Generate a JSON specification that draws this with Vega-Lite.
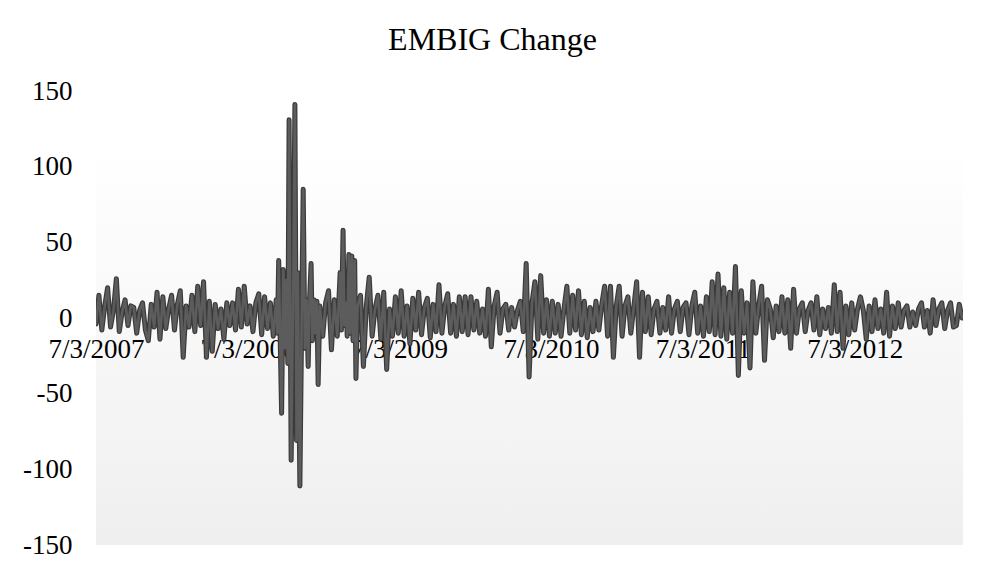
{
  "$schema": "https://vega.github.io/schema/vega-lite/v6.json",
  "autosize": "none",
  "width": 867,
  "height": 454,
  "padding": {"left": 96, "top": 91, "right": 27, "bottom": 24},
  "background": "#ffffff",
  "title": {
    "text": "EMBIG Change",
    "font": "Liberation Serif",
    "fontSize": 32,
    "fontWeight": "normal",
    "color": "#000000",
    "anchor": "middle",
    "dx": -37,
    "offset": 20
  },
  "view": {
    "stroke": null,
    "fill": {
      "gradient": "linear",
      "x1": 0, "y1": 0, "x2": 0, "y2": 1,
      "stops": [
        {"offset": 0, "color": "#ffffff"},
        {"offset": 0.12, "color": "#ffffff"},
        {"offset": 1, "color": "#efefef"}
      ]
    }
  },
  "data": {
    "values": [
      {"date": "2007-07-03", "change": -4}, {"date": "2007-07-10", "change": 15}, {"date": "2007-07-17", "change": -8}, {"date": "2007-07-24", "change": 8},
      {"date": "2007-07-31", "change": 20}, {"date": "2007-08-07", "change": -6}, {"date": "2007-08-14", "change": 5}, {"date": "2007-08-21", "change": 26},
      {"date": "2007-08-28", "change": -9}, {"date": "2007-09-04", "change": 4}, {"date": "2007-09-11", "change": 12}, {"date": "2007-09-18", "change": -5},
      {"date": "2007-09-25", "change": 8}, {"date": "2007-10-02", "change": 7}, {"date": "2007-10-09", "change": -10}, {"date": "2007-10-16", "change": 5},
      {"date": "2007-10-23", "change": 10}, {"date": "2007-10-30", "change": -8}, {"date": "2007-11-06", "change": -15}, {"date": "2007-11-13", "change": 9},
      {"date": "2007-11-20", "change": -6}, {"date": "2007-11-27", "change": 17}, {"date": "2007-12-04", "change": -14}, {"date": "2007-12-11", "change": 14},
      {"date": "2007-12-18", "change": -7}, {"date": "2007-12-25", "change": 6}, {"date": "2008-01-01", "change": 15}, {"date": "2008-01-08", "change": -8},
      {"date": "2008-01-15", "change": 9}, {"date": "2008-01-22", "change": 18}, {"date": "2008-01-29", "change": -26}, {"date": "2008-02-05", "change": 8},
      {"date": "2008-02-12", "change": -6}, {"date": "2008-02-19", "change": 15}, {"date": "2008-02-26", "change": -9}, {"date": "2008-03-04", "change": 21},
      {"date": "2008-03-11", "change": -5}, {"date": "2008-03-18", "change": 24}, {"date": "2008-03-25", "change": -26}, {"date": "2008-04-01", "change": 11},
      {"date": "2008-04-08", "change": -22}, {"date": "2008-04-15", "change": 9}, {"date": "2008-04-22", "change": -7}, {"date": "2008-04-29", "change": 6},
      {"date": "2008-05-06", "change": -14}, {"date": "2008-05-13", "change": 10}, {"date": "2008-05-20", "change": -5}, {"date": "2008-05-27", "change": 10},
      {"date": "2008-06-03", "change": -8}, {"date": "2008-06-10", "change": 19}, {"date": "2008-06-17", "change": -6}, {"date": "2008-06-24", "change": 21},
      {"date": "2008-07-01", "change": -4}, {"date": "2008-07-08", "change": 8}, {"date": "2008-07-15", "change": -9}, {"date": "2008-07-22", "change": 10},
      {"date": "2008-07-29", "change": 16}, {"date": "2008-08-05", "change": -11}, {"date": "2008-08-12", "change": 14}, {"date": "2008-08-19", "change": -7},
      {"date": "2008-08-26", "change": 10}, {"date": "2008-09-02", "change": -12}, {"date": "2008-09-09", "change": 12}, {"date": "2008-09-12", "change": -10},
      {"date": "2008-09-15", "change": 38}, {"date": "2008-09-22", "change": -63}, {"date": "2008-09-26", "change": 32}, {"date": "2008-09-30", "change": -20},
      {"date": "2008-10-03", "change": 25}, {"date": "2008-10-07", "change": -30}, {"date": "2008-10-10", "change": 131}, {"date": "2008-10-15", "change": -94},
      {"date": "2008-10-20", "change": 20}, {"date": "2008-10-24", "change": 141}, {"date": "2008-10-28", "change": -81}, {"date": "2008-10-31", "change": 30},
      {"date": "2008-11-05", "change": -111}, {"date": "2008-11-10", "change": 15}, {"date": "2008-11-13", "change": 85}, {"date": "2008-11-17", "change": -20},
      {"date": "2008-11-21", "change": 12}, {"date": "2008-11-25", "change": -32}, {"date": "2008-11-28", "change": 10}, {"date": "2008-12-02", "change": 36},
      {"date": "2008-12-05", "change": -15}, {"date": "2008-12-09", "change": 12}, {"date": "2008-12-12", "change": -10}, {"date": "2008-12-16", "change": 11},
      {"date": "2008-12-19", "change": -44}, {"date": "2008-12-23", "change": 8}, {"date": "2008-12-30", "change": -12}, {"date": "2009-01-06", "change": 10},
      {"date": "2009-01-13", "change": 18}, {"date": "2009-01-20", "change": -21}, {"date": "2009-01-27", "change": 12}, {"date": "2009-02-03", "change": -12},
      {"date": "2009-02-10", "change": 30}, {"date": "2009-02-13", "change": -8}, {"date": "2009-02-17", "change": 58}, {"date": "2009-02-20", "change": -5},
      {"date": "2009-02-24", "change": 10}, {"date": "2009-02-27", "change": -12}, {"date": "2009-03-03", "change": 42}, {"date": "2009-03-06", "change": -10},
      {"date": "2009-03-10", "change": 41}, {"date": "2009-03-13", "change": -15}, {"date": "2009-03-17", "change": 38}, {"date": "2009-03-20", "change": -40},
      {"date": "2009-03-24", "change": 8}, {"date": "2009-03-31", "change": 15}, {"date": "2009-04-07", "change": -32}, {"date": "2009-04-14", "change": 8},
      {"date": "2009-04-21", "change": 27}, {"date": "2009-04-28", "change": -12}, {"date": "2009-05-05", "change": 6}, {"date": "2009-05-12", "change": 15},
      {"date": "2009-05-19", "change": -14}, {"date": "2009-05-26", "change": 17}, {"date": "2009-06-02", "change": -34}, {"date": "2009-06-09", "change": 6},
      {"date": "2009-06-16", "change": -12}, {"date": "2009-06-23", "change": 14}, {"date": "2009-06-30", "change": -10}, {"date": "2009-07-07", "change": 18},
      {"date": "2009-07-14", "change": -12}, {"date": "2009-07-21", "change": 8}, {"date": "2009-07-28", "change": -17}, {"date": "2009-08-04", "change": 13},
      {"date": "2009-08-11", "change": -8}, {"date": "2009-08-18", "change": 17}, {"date": "2009-08-25", "change": -11}, {"date": "2009-09-01", "change": 7},
      {"date": "2009-09-08", "change": 13}, {"date": "2009-09-15", "change": -13}, {"date": "2009-09-22", "change": 9}, {"date": "2009-09-29", "change": -9},
      {"date": "2009-10-06", "change": 22}, {"date": "2009-10-13", "change": -10}, {"date": "2009-10-20", "change": 8}, {"date": "2009-10-27", "change": 16},
      {"date": "2009-11-03", "change": -10}, {"date": "2009-11-10", "change": 9}, {"date": "2009-11-17", "change": -12}, {"date": "2009-11-24", "change": 14},
      {"date": "2009-12-01", "change": -9}, {"date": "2009-12-08", "change": 14}, {"date": "2009-12-15", "change": -11}, {"date": "2009-12-22", "change": 14},
      {"date": "2009-12-29", "change": -8}, {"date": "2010-01-05", "change": 11}, {"date": "2010-01-12", "change": -10}, {"date": "2010-01-19", "change": 6},
      {"date": "2010-01-26", "change": -12}, {"date": "2010-02-02", "change": 19}, {"date": "2010-02-09", "change": -19}, {"date": "2010-02-16", "change": 8},
      {"date": "2010-02-23", "change": 17}, {"date": "2010-03-02", "change": -10}, {"date": "2010-03-09", "change": 6}, {"date": "2010-03-16", "change": 9},
      {"date": "2010-03-23", "change": -8}, {"date": "2010-03-30", "change": 7}, {"date": "2010-04-06", "change": -6}, {"date": "2010-04-13", "change": 5},
      {"date": "2010-04-20", "change": 11}, {"date": "2010-04-27", "change": -9}, {"date": "2010-05-04", "change": 36}, {"date": "2010-05-11", "change": -39},
      {"date": "2010-05-18", "change": 10}, {"date": "2010-05-25", "change": 24}, {"date": "2010-06-01", "change": -14}, {"date": "2010-06-08", "change": 28},
      {"date": "2010-06-15", "change": -10}, {"date": "2010-06-22", "change": 12}, {"date": "2010-06-29", "change": -12}, {"date": "2010-07-06", "change": 11},
      {"date": "2010-07-13", "change": -10}, {"date": "2010-07-20", "change": 9}, {"date": "2010-07-27", "change": -12}, {"date": "2010-08-03", "change": 6},
      {"date": "2010-08-10", "change": 21}, {"date": "2010-08-17", "change": -10}, {"date": "2010-08-24", "change": 15}, {"date": "2010-08-31", "change": -8},
      {"date": "2010-09-07", "change": 18}, {"date": "2010-09-14", "change": -11}, {"date": "2010-09-21", "change": 11}, {"date": "2010-09-28", "change": -13},
      {"date": "2010-10-05", "change": 7}, {"date": "2010-10-12", "change": -9}, {"date": "2010-10-19", "change": 11}, {"date": "2010-10-26", "change": -8},
      {"date": "2010-11-02", "change": 9}, {"date": "2010-11-09", "change": 21}, {"date": "2010-11-16", "change": -12}, {"date": "2010-11-23", "change": 21},
      {"date": "2010-11-30", "change": -26}, {"date": "2010-12-07", "change": 8}, {"date": "2010-12-14", "change": 21}, {"date": "2010-12-21", "change": -12},
      {"date": "2010-12-28", "change": 8}, {"date": "2011-01-04", "change": 14}, {"date": "2011-01-11", "change": -10}, {"date": "2011-01-18", "change": 7},
      {"date": "2011-01-25", "change": 24}, {"date": "2011-02-01", "change": -26}, {"date": "2011-02-08", "change": 17}, {"date": "2011-02-15", "change": -9},
      {"date": "2011-02-22", "change": 14}, {"date": "2011-03-01", "change": -11}, {"date": "2011-03-08", "change": 6}, {"date": "2011-03-15", "change": 11},
      {"date": "2011-03-22", "change": -10}, {"date": "2011-03-29", "change": 7}, {"date": "2011-04-05", "change": -8}, {"date": "2011-04-12", "change": 14},
      {"date": "2011-04-19", "change": -10}, {"date": "2011-04-26", "change": 6}, {"date": "2011-05-03", "change": 11}, {"date": "2011-05-10", "change": -9},
      {"date": "2011-05-17", "change": 7}, {"date": "2011-05-24", "change": 10}, {"date": "2011-05-31", "change": -11}, {"date": "2011-06-07", "change": 8},
      {"date": "2011-06-14", "change": 17}, {"date": "2011-06-21", "change": -10}, {"date": "2011-06-28", "change": 8}, {"date": "2011-07-05", "change": -12},
      {"date": "2011-07-12", "change": 14}, {"date": "2011-07-19", "change": -9}, {"date": "2011-07-26", "change": 24}, {"date": "2011-08-02", "change": -11},
      {"date": "2011-08-09", "change": 29}, {"date": "2011-08-16", "change": -12}, {"date": "2011-08-23", "change": 20}, {"date": "2011-08-30", "change": -14},
      {"date": "2011-09-06", "change": 17}, {"date": "2011-09-13", "change": -10}, {"date": "2011-09-20", "change": 34}, {"date": "2011-09-27", "change": -38},
      {"date": "2011-10-04", "change": 18}, {"date": "2011-10-11", "change": -10}, {"date": "2011-10-18", "change": 10}, {"date": "2011-10-25", "change": -33},
      {"date": "2011-11-01", "change": 24}, {"date": "2011-11-08", "change": -10}, {"date": "2011-11-15", "change": 8}, {"date": "2011-11-22", "change": 21},
      {"date": "2011-11-29", "change": -28}, {"date": "2011-12-06", "change": 12}, {"date": "2011-12-13", "change": 6}, {"date": "2011-12-20", "change": -13},
      {"date": "2011-12-27", "change": 8}, {"date": "2012-01-03", "change": -9}, {"date": "2012-01-10", "change": 14}, {"date": "2012-01-17", "change": -10},
      {"date": "2012-01-24", "change": 12}, {"date": "2012-01-31", "change": -20}, {"date": "2012-02-07", "change": 19}, {"date": "2012-02-14", "change": -10},
      {"date": "2012-02-21", "change": 6}, {"date": "2012-02-28", "change": 10}, {"date": "2012-03-06", "change": -9}, {"date": "2012-03-13", "change": 5},
      {"date": "2012-03-20", "change": 10}, {"date": "2012-03-27", "change": -8}, {"date": "2012-04-03", "change": 14}, {"date": "2012-04-10", "change": -11},
      {"date": "2012-04-17", "change": 6}, {"date": "2012-04-24", "change": -7}, {"date": "2012-05-01", "change": 7}, {"date": "2012-05-08", "change": -10},
      {"date": "2012-05-15", "change": 22}, {"date": "2012-05-22", "change": -9}, {"date": "2012-05-29", "change": 17}, {"date": "2012-06-05", "change": -20},
      {"date": "2012-06-12", "change": 8}, {"date": "2012-06-19", "change": -11}, {"date": "2012-06-26", "change": 10}, {"date": "2012-07-03", "change": -8},
      {"date": "2012-07-10", "change": 6}, {"date": "2012-07-17", "change": 14}, {"date": "2012-07-24", "change": 5}, {"date": "2012-07-31", "change": -14},
      {"date": "2012-08-07", "change": 8}, {"date": "2012-08-14", "change": -9}, {"date": "2012-08-21", "change": 12}, {"date": "2012-08-28", "change": -7},
      {"date": "2012-09-04", "change": 6}, {"date": "2012-09-11", "change": -10}, {"date": "2012-09-18", "change": 17}, {"date": "2012-09-25", "change": -12},
      {"date": "2012-10-02", "change": 8}, {"date": "2012-10-09", "change": -7}, {"date": "2012-10-16", "change": 10}, {"date": "2012-10-23", "change": -6},
      {"date": "2012-10-30", "change": 5}, {"date": "2012-11-06", "change": 8}, {"date": "2012-11-13", "change": -6}, {"date": "2012-11-20", "change": 4},
      {"date": "2012-11-27", "change": -5}, {"date": "2012-12-04", "change": 6}, {"date": "2012-12-11", "change": 10}, {"date": "2012-12-18", "change": -6},
      {"date": "2012-12-25", "change": 5}, {"date": "2013-01-01", "change": -10}, {"date": "2013-01-08", "change": 12}, {"date": "2013-01-15", "change": -5},
      {"date": "2013-01-22", "change": 6}, {"date": "2013-01-29", "change": 10}, {"date": "2013-02-05", "change": -7}, {"date": "2013-02-12", "change": 5},
      {"date": "2013-02-19", "change": 10}, {"date": "2013-02-26", "change": -6}, {"date": "2013-03-05", "change": -5}, {"date": "2013-03-12", "change": 9},
      {"date": "2013-03-19", "change": 0}
    ]
  },
  "encoding": {
    "x": {
      "field": "date",
      "type": "temporal",
      "title": null,
      "scale": {
        "type": "utc",
        "domain": [
          {"year": 2007, "month": 7, "date": 3, "utc": true},
          {"year": 2013, "month": 3, "date": 21, "utc": true}
        ]
      },
      "axis": {
        "orient": "bottom",
        "offset": -227,
        "values": [
          {"year": 2007, "month": 7, "date": 3, "utc": true},
          {"year": 2008, "month": 7, "date": 3, "utc": true},
          {"year": 2009, "month": 7, "date": 3, "utc": true},
          {"year": 2010, "month": 7, "date": 3, "utc": true},
          {"year": 2011, "month": 7, "date": 3, "utc": true},
          {"year": 2012, "month": 7, "date": 3, "utc": true}
        ],
        "labelExpr": "utcFormat(datum.value, '%-m/%-d/%Y')",
        "domain": false,
        "ticks": false,
        "grid": false,
        "labelFont": "Liberation Serif",
        "labelFontSize": 27,
        "labelColor": "#000000",
        "labelPadding": 18,
        "labelFlush": false,
        "labelBound": false,
        "labelOverlap": false
      }
    },
    "y": {
      "field": "change",
      "type": "quantitative",
      "title": null,
      "scale": {"domain": [-150, 150], "nice": false, "zero": false},
      "axis": {
        "values": [-150, -100, -50, 0, 50, 100, 150],
        "labelExpr": "datum.value < 0 ? '-' + abs(datum.value) : '' + datum.value",
        "domain": false,
        "ticks": false,
        "grid": false,
        "labelFont": "Liberation Serif",
        "labelFontSize": 27,
        "labelColor": "#000000",
        "labelPadding": 24
      }
    }
  },
  "layer": [
    {
      "mark": {"type": "line", "color": "#3a3a3a", "strokeWidth": 5, "strokeCap": "round", "strokeJoin": "round", "clip": true}
    },
    {
      "mark": {"type": "line", "color": "#5c5c5c", "strokeWidth": 2.6, "strokeCap": "round", "strokeJoin": "round", "clip": true}
    }
  ]
}
